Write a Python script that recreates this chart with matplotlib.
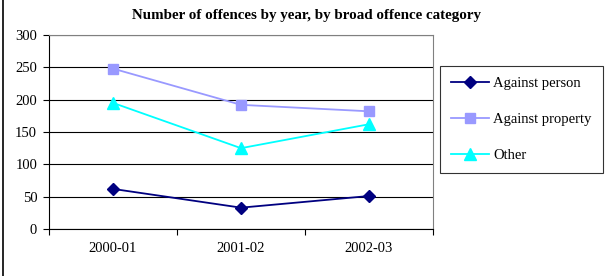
import matplotlib
matplotlib.use('Agg')
import matplotlib.pyplot as plt
from matplotlib.lines import Line2D

years = ["2000-01", "2001-02", "2002-03"]
against_person = [62, 33, 51]
against_property = [248, 192, 182]
other = [195, 125, 162]

plt.rcParams['font.family'] = ['Liberation Serif', 'DejaVu Serif']

fig = plt.figure(figsize=(6.09, 2.76), dpi=100)
W, H = 609, 276
ax = fig.add_axes([49 / W, 1 - 229 / H, (433 - 49) / W, (229 - 35) / H])

x = [i + 0.5 for i in range(len(years))]
ax.plot(x, against_person, color='#000080', marker='D', markersize=6,
        linewidth=1.3, label='Against person', zorder=3)
ax.plot(x, against_property, color='#9999FF', marker='s', markersize=7.5,
        linewidth=1.3, label='Against property', zorder=3)
ax.plot(x, other, color='#00FFFF', marker='^', markersize=8,
        linewidth=1.3, label='Other', zorder=3)

ax.set_xlim(0, 3)
ax.set_ylim(0, 300)
ax.set_yticks(range(0, 301, 50))
ax.set_xticks([0, 1, 2, 3])
ax.set_xticklabels([])
ax.set_xticks(x, minor=True)
ax.set_xticklabels(years, minor=True)
ax.tick_params(axis='x', which='minor', length=0, pad=9, labelsize=10.5)
ax.tick_params(axis='x', which='major', length=4, direction='out', color='black')
ax.tick_params(axis='y', length=4.5, direction='out', labelsize=10.5, pad=4)

ax.grid(axis='y', color='black', linewidth=0.8)
ax.set_axisbelow(True)
for s in ['top', 'right']:
    ax.spines[s].set_color('#808080')
    ax.spines[s].set_linewidth(0.8)
for s in ['left', 'bottom']:
    ax.spines[s].set_color('black')
    ax.spines[s].set_linewidth(0.8)

fig.text(306 / W, 1 - 15 / H, "Number of offences by year, by broad offence category",
         ha='center', va='center', fontsize=10.8, fontweight='bold')

leg = fig.legend(loc='upper left', bbox_to_anchor=(440 / W, 1 - 66 / H),
                 frameon=True, fancybox=False, edgecolor='black',
                 fontsize=10.5, handlelength=2.6, labelspacing=1.55,
                 borderpad=0.75, handletextpad=0.3, borderaxespad=0)
leg.get_frame().set_linewidth(0.8)

# left border of the chart frame
fig.add_artist(Line2D([3 / W, 3 / W], [0, 1], color='black', linewidth=1.2))

fig.savefig('out.png', dpi=100)
